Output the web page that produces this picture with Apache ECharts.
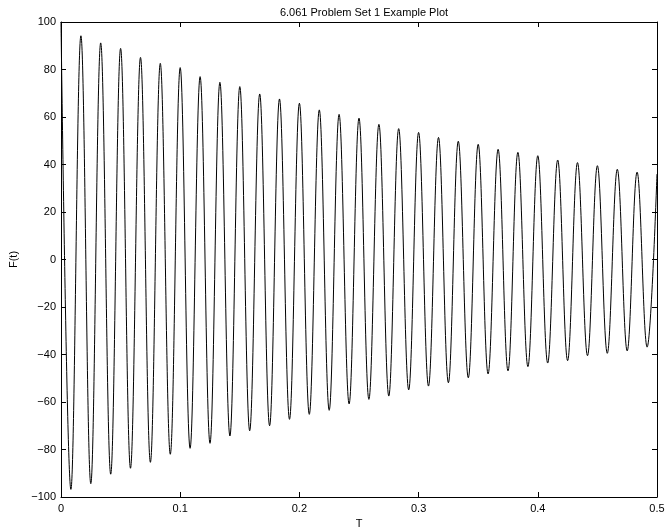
<!DOCTYPE html>
<html>
<head>
<meta charset="utf-8">
<script src="https://cdn.jsdelivr.net/npm/echarts@6/dist/echarts.min.js"></script>
<style>
html,body{margin:0;padding:0;background:#fff;}
#chart{width:665px;height:529px;}
</style>
</head>
<body>
<div id="chart"></div>
<script>
// Data (local maxima and minima of F(t))
var peakT = [0, 0.0167, 0.0333, 0.05, 0.0667, 0.0833, 0.1, 0.1167, 0.1333, 0.15, 0.1667, 0.1833, 0.2, 0.2167, 0.2333, 0.25, 0.2667, 0.2833, 0.3, 0.3167, 0.3333, 0.35, 0.3667, 0.3833, 0.4, 0.4167, 0.4333, 0.45, 0.4667, 0.4833, 0.5];
var peakF = [100, 94.2, 91.2, 88.9, 85.1, 82.6, 80.8, 77, 74.6, 72.8, 69.7, 67.6, 65.8, 63, 61.1, 59.5, 56.9, 55.1, 53.5, 51.4, 49.8, 48.5, 46.4, 45.1, 43.7, 41.9, 40.8, 39.5, 38, 36.8, 36];
var troughT = [0.0083, 0.025, 0.0417, 0.0583, 0.075, 0.0917, 0.1083, 0.125, 0.1417, 0.1583, 0.175, 0.1917, 0.2083, 0.225, 0.2417, 0.2583, 0.275, 0.2917, 0.3083, 0.325, 0.3417, 0.3583, 0.375, 0.3917, 0.4083, 0.425, 0.4417, 0.4583, 0.475, 0.4917];
var troughF = [-96.8, -94.4, -90.4, -87.9, -85.4, -82, -79.5, -77.4, -74.3, -72.1, -70, -67.3, -65.2, -63.5, -60.8, -58.9, -57.5, -54.9, -53.3, -51.9, -49.8, -48.2, -46.9, -45.1, -43.6, -42.6, -40.5, -39.5, -38.5, -36.9];
var xTicks = [0, 0.1, 0.2, 0.3, 0.4, 0.5];
var yTicks = [-100, -80, -60, -40, -20, 0, 20, 40, 60, 80, 100];
var titleText = '6.061 Problem Set 1 Example Plot';
var xName = 'T';
var yName = 'F(t)';

var pts = [];
for (var i = 0; i < peakT.length; i++) pts.push([peakT[i], peakF[i]]);
for (var j = 0; j < troughT.length; j++) pts.push([troughT[j], troughF[j]]);
pts.sort(function (a, b) { return a[0] - b[0]; });

var font = '"Liberation Sans", Arial, Helvetica, sans-serif';
var txt = {color: '#000', fontFamily: font, fontSize: 11};
function fmt(v) { return String(v).replace('-', '\u2212'); }

var chart = echarts.init(document.getElementById('chart'), null, {renderer: 'canvas'});
chart.setOption({
  animation: false,
  backgroundColor: '#fff',
  title: {
    text: titleText, left: 359, top: 2, textAlign: 'center',
    textStyle: {color: '#000', fontFamily: font, fontSize: 11, fontWeight: 'normal'}
  },
  grid: {left: 61, right: 8, top: 22, bottom: 32, containLabel: false, outerBoundsMode: 'none'},
  xAxis: [{
    type: 'value', position: 'bottom', min: xTicks[0], max: xTicks[xTicks.length - 1], interval: 0.1,
    name: xName, nameLocation: 'middle', nameGap: 20, nameTextStyle: txt,
    axisLine: {show: true, onZero: false, lineStyle: {color: '#000', width: 1}},
    axisTick: {show: true, inside: true, length: 5, lineStyle: {color: '#000'}},
    axisLabel: {show: true, margin: 6, color: '#000', fontFamily: font, fontSize: 11, formatter: fmt},
    splitLine: {show: false}
  }, {
    type: 'value', position: 'top', min: xTicks[0], max: xTicks[xTicks.length - 1], interval: 0.1,
    axisLine: {show: true, onZero: false, lineStyle: {color: '#000', width: 1}},
    axisTick: {show: true, inside: true, length: 5, lineStyle: {color: '#000'}},
    axisLabel: {show: false}, splitLine: {show: false}
  }],
  yAxis: [{
    type: 'value', position: 'left', min: yTicks[0], max: yTicks[yTicks.length - 1], interval: 20,
    name: yName, nameLocation: 'middle', nameGap: 42, nameRotate: 90, nameTextStyle: txt,
    axisLine: {show: true, onZero: false, lineStyle: {color: '#000', width: 1}},
    axisTick: {show: true, inside: true, length: 5, lineStyle: {color: '#000'}},
    axisLabel: {show: true, margin: 5, color: '#000', fontFamily: font, fontSize: 11, formatter: fmt},
    splitLine: {show: false}
  }, {
    type: 'value', position: 'right', min: yTicks[0], max: yTicks[yTicks.length - 1], interval: 20,
    axisLine: {show: true, onZero: false, lineStyle: {color: '#000', width: 1}},
    axisTick: {show: true, inside: true, length: 5, lineStyle: {color: '#000'}},
    axisLabel: {show: false}, splitLine: {show: false}
  }],
  series: [{
    type: 'line', xAxisIndex: 0, yAxisIndex: 0, data: pts,
    smooth: 0.38, showSymbol: false, symbol: 'none',
    lineStyle: {color: '#000', width: 1}
  }]
});
</script>
</body>
</html>
